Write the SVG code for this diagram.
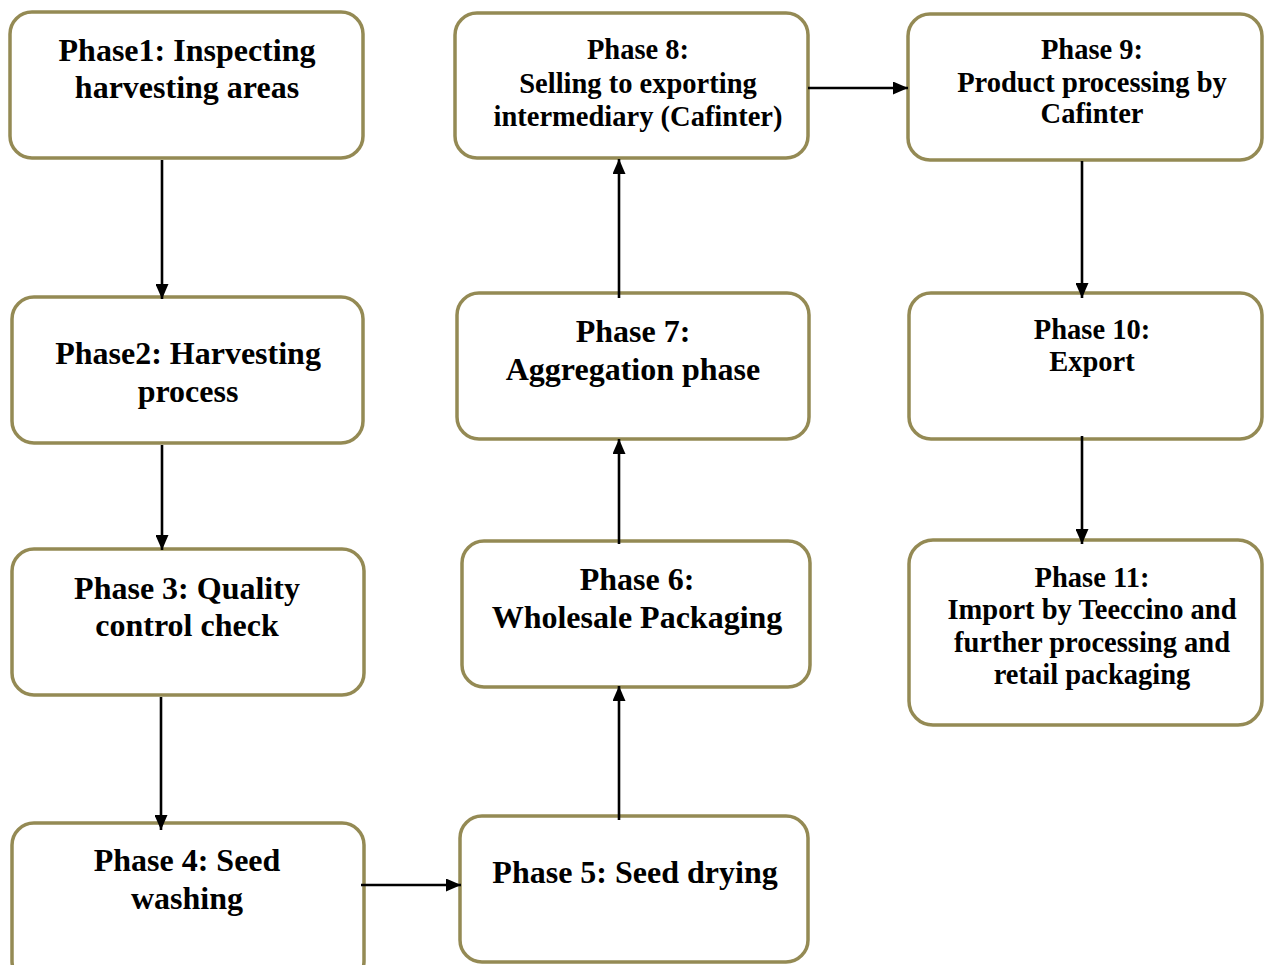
<svg xmlns="http://www.w3.org/2000/svg" width="1264" height="965" viewBox="0 0 1264 965">
<style>
.box{fill:#fff;stroke:#948a54;stroke-width:3.5}
.t{font-family:"Liberation Serif","Times New Roman",serif;font-weight:bold;fill:#000;text-anchor:middle}
.l{font-size:32px}
.s{font-size:28.5px}
.c{stroke:#000;stroke-width:2.6;fill:none;marker-end:url(#ah)}
</style>
<defs>
<marker id="ah" viewBox="0 0 15 13" refX="15" refY="6.5" markerWidth="15" markerHeight="13" markerUnits="userSpaceOnUse" orient="auto">
<path d="M0,0 L15,6.5 L0,13 Z" fill="#000"/>
</marker>
</defs>
<rect width="1264" height="965" fill="#fff"/>
<g id="n1"><rect class="box" x="10" y="12" width="353" height="146" rx="22"/>
<text class="t l" x="187" y="61">Phase1: Inspecting</text><text class="t l" x="187" y="98">harvesting areas</text></g>
<g id="n2"><rect class="box" x="12" y="297" width="351" height="146" rx="22"/>
<text class="t l" x="188" y="364">Phase2: Harvesting</text><text class="t l" x="188" y="402">process</text></g>
<g id="n3"><rect class="box" x="12" y="549" width="352" height="146" rx="22"/>
<text class="t l" x="187" y="599">Phase 3: Quality</text><text class="t l" x="187" y="636">control check</text></g>
<g id="n4"><rect class="box" x="12" y="823" width="352" height="160" rx="22"/>
<text class="t l" x="187" y="871">Phase 4: Seed</text><text class="t l" x="187" y="909">washing</text></g>
<g id="n5"><rect class="box" x="460" y="816" width="348" height="146" rx="22"/>
<text class="t l" x="635" y="883">Phase 5: Seed drying</text></g>
<g id="n6"><rect class="box" x="462" y="541" width="348" height="146" rx="22"/>
<text class="t l" x="637" y="590">Phase 6:</text><text class="t l" x="637" y="628">Wholesale Packaging</text></g>
<g id="n7"><rect class="box" x="457" y="293" width="352" height="146" rx="22"/>
<text class="t l" x="633" y="342">Phase 7:</text><text class="t l" x="633" y="380">Aggregation phase</text></g>
<g id="n8"><rect class="box" x="455" y="13" width="353" height="145" rx="22"/>
<text class="t s" x="638" y="59">Phase 8:</text><text class="t s" x="638" y="93">Selling to exporting</text><text class="t s" x="638" y="126">intermediary (Cafinter)</text></g>
<g id="n9"><rect class="box" x="908" y="14" width="354" height="146" rx="22"/>
<text class="t s" x="1092" y="59">Phase 9:</text><text class="t s" x="1092" y="92">Product processing by</text><text class="t s" x="1092" y="123">Cafinter</text></g>
<g id="n10"><rect class="box" x="909" y="293" width="353" height="146" rx="22"/>
<text class="t s" x="1092" y="339">Phase 10:</text><text class="t s" x="1092" y="371">Export</text></g>
<g id="n11"><rect class="box" x="909" y="540" width="353" height="185" rx="24"/>
<text class="t s" x="1092" y="587">Phase 11:</text><text class="t s" x="1092" y="619">Import by Teeccino and</text><text class="t s" x="1092" y="652">further processing and</text><text class="t s" x="1092" y="684">retail packaging</text></g>
<g id="connectors">
<line class="c" x1="162" y1="160" x2="162" y2="299"/>
<line class="c" x1="162" y1="445" x2="162" y2="550"/>
<line class="c" x1="161" y1="697" x2="161" y2="830"/>
<line class="c" x1="361" y1="885" x2="461" y2="885"/>
<line class="c" x1="619" y1="820" x2="619" y2="686"/>
<line class="c" x1="619" y1="544" x2="619" y2="439"/>
<line class="c" x1="619" y1="298" x2="619" y2="159"/>
<line class="c" x1="808" y1="88" x2="908" y2="88"/>
<line class="c" x1="1082" y1="161" x2="1082" y2="298"/>
<line class="c" x1="1082" y1="436" x2="1082" y2="544"/>
</g>
</svg>
